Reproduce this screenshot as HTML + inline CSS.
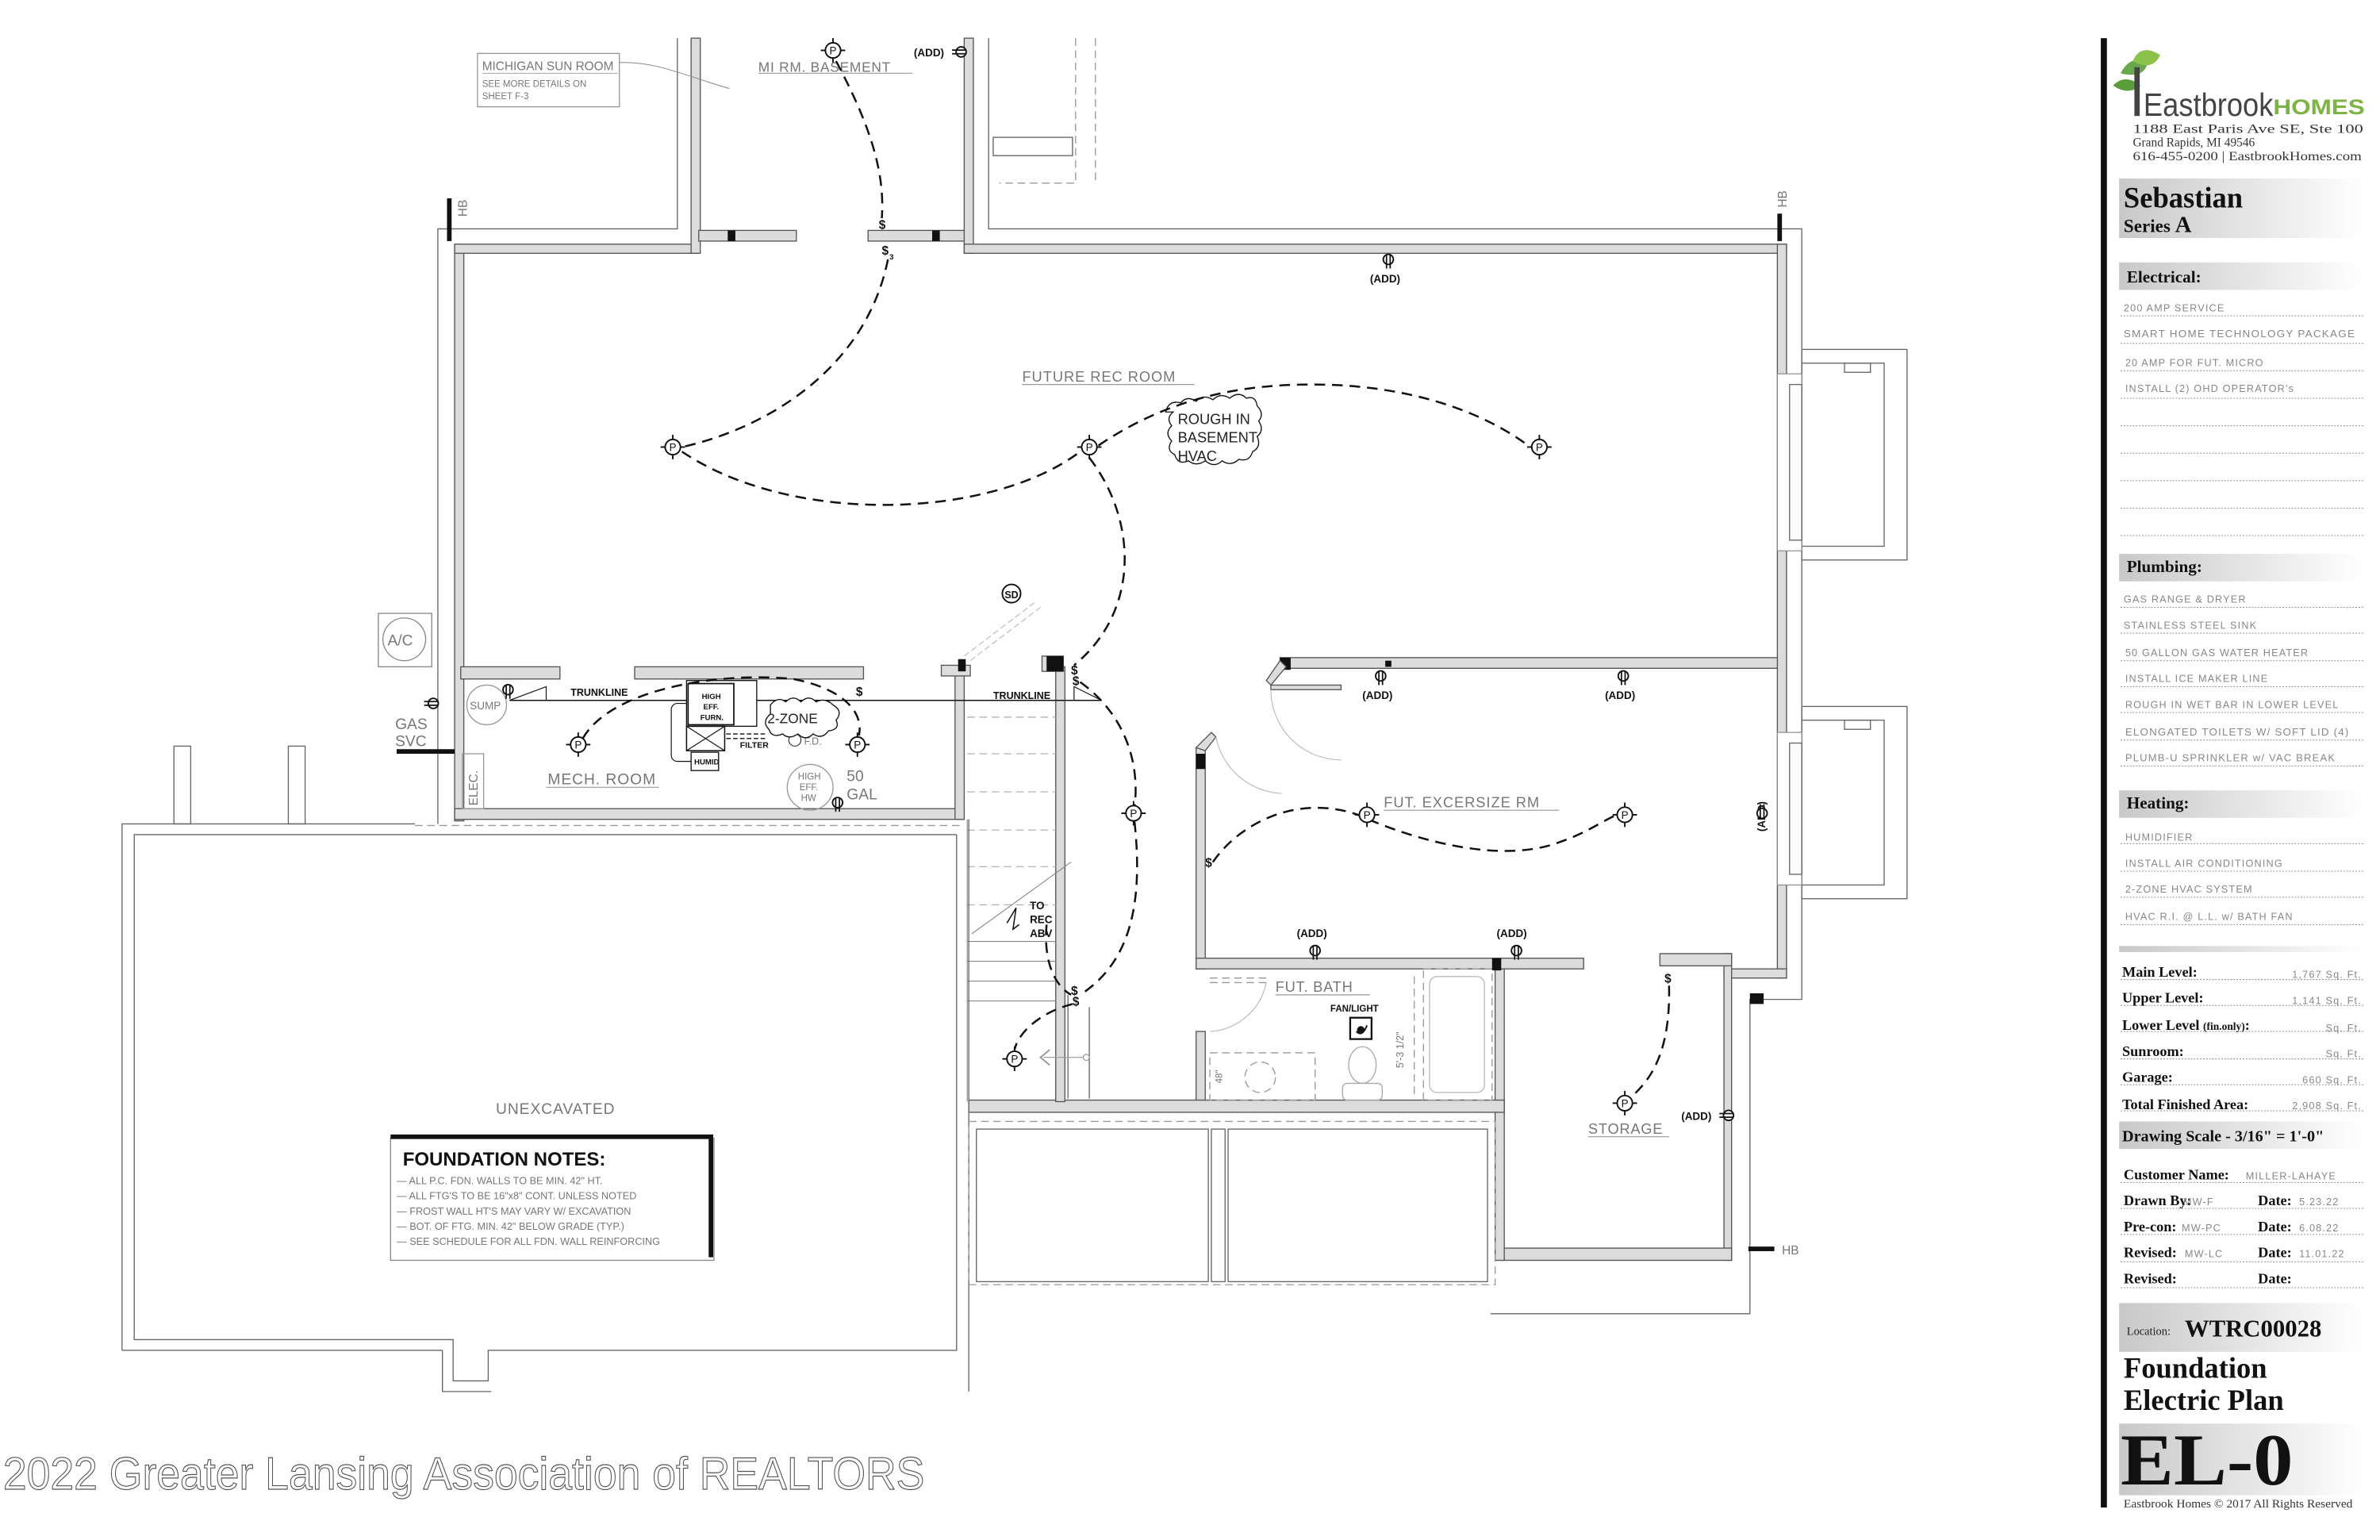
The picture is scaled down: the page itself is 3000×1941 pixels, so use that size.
<!DOCTYPE html>
<html><head><meta charset="utf-8"><style>
html,body{margin:0;padding:0;background:#fff;}
svg{display:block;}
.w{fill:#dcdcdc;stroke:#555;stroke-width:0.7;}
.t{fill:none;stroke:#666;stroke-width:0.7;}
.d{fill:none;stroke:#999;stroke-width:0.7;stroke-dasharray:5 3;}
.wire{fill:none;stroke:#111;stroke-width:1.3;stroke-dasharray:7 4.5;}
.lbl{font-family:"Liberation Sans",sans-serif;fill:#777;}
.blk{font-family:"Liberation Sans",sans-serif;fill:#111;font-weight:bold;}
.ser{font-family:"Liberation Serif",serif;font-weight:bold;fill:#111;}
.itm{font-family:"Liberation Sans",sans-serif;fill:#888;font-size:6.6px;letter-spacing:0.6px;}
.dot{stroke:#999;stroke-width:0.6;stroke-dasharray:1 1;}
</style></head><body>
<svg width="3000" height="1941" viewBox="0 0 1560 1009.3" xmlns="http://www.w3.org/2000/svg">
<defs>
<linearGradient id="g" x1="0" x2="1" y1="0" y2="0"><stop offset="0" stop-color="#c8c8c8"/><stop offset="1" stop-color="#fff"/></linearGradient>
<symbol id="P" viewBox="-8 -8 16 16" overflow="visible">
<circle r="5" fill="#fff" stroke="#111" stroke-width="1"/><line x1="-8" y1="0" x2="-5" y2="0" stroke="#111"/><line x1="5" y1="0" x2="8" y2="0" stroke="#111"/><line x1="0" y1="-8" x2="0" y2="-5" stroke="#111"/><line x1="0" y1="5" x2="0" y2="8" stroke="#111"/>
<text x="0" y="2.6" font-size="7" text-anchor="middle" font-family="Liberation Sans,sans-serif" fill="#111">P</text></symbol>
<symbol id="O" viewBox="-5 -5 10 10" overflow="visible">
<circle r="3.3" fill="#fff" stroke="#111" stroke-width="1"/><line x1="-1.2" y1="-3" x2="-1.2" y2="6" stroke="#111" stroke-width="0.9"/><line x1="1.2" y1="-3" x2="1.2" y2="6" stroke="#111" stroke-width="0.9"/></symbol>
<symbol id="OH" viewBox="-5 -5 10 10" overflow="visible">
<circle r="3.3" fill="#fff" stroke="#111" stroke-width="1"/><line x1="-6" y1="-1.2" x2="3" y2="-1.2" stroke="#111" stroke-width="0.9"/><line x1="-6" y1="1.2" x2="3" y2="1.2" stroke="#111" stroke-width="0.9"/></symbol>
</defs>
<rect width="1560" height="1010" fill="#fff"/>

<polyline class="t" points="444,25 444,150 287,150 287,540"/>
<polyline class="t" points="648,25 648,150 1181,150 1181,655 1147,655 1147,861 977,861"/>
<polyline class="d" points="705,25 705,120 655,120"/>
<rect x="651" y="90" width="52" height="12" class="t"/>
<line x1="718" y1="25" x2="718" y2="120" class="d"/>
<rect x="293" y="130" width="3" height="28" fill="#111"/>
<text class="lbl" font-size="8" transform="translate(306,142) rotate(-90)">HB</text>
<rect x="1165" y="140" width="3" height="18" fill="#111"/>
<text class="lbl" font-size="8" transform="translate(1171,136) rotate(-90)">HB</text>
<rect x="1146" y="817" width="17" height="3" fill="#111"/>
<text class="lbl" font-size="8" x="1168" y="822">HB</text>

<rect class="w" x="298" y="160" width="6" height="378"/>
<rect class="w" x="298" y="160" width="160" height="6"/>
<rect class="w" x="453" y="25" width="6" height="141"/>
<rect class="w" x="458" y="151" width="64" height="7"/>
<rect class="w" x="569" y="151" width="65" height="7"/>
<rect x="477" y="151" width="5" height="7" fill="#111"/>
<rect x="611" y="151" width="5" height="7" fill="#111"/>
<rect class="w" x="632" y="25" width="6" height="141"/>
<rect class="w" x="632" y="160" width="539" height="6"/>
<rect class="w" x="1165" y="160" width="6" height="481"/>
<rect class="w" x="1130" y="635" width="41" height="6"/>
<rect class="w" x="1130" y="625" width="5" height="201"/>
<rect class="w" x="1088" y="625" width="47" height="8"/>
<rect class="w" x="984" y="818" width="151" height="8"/>
<rect class="w" x="980" y="628" width="6" height="198"/>
<rect x="1147" y="651" width="9" height="7" fill="#111"/>
<rect class="t" x="1181" y="229" width="69" height="138"/>
<rect class="t" x="1181" y="238" width="54" height="120"/>
<rect class="t" x="1209" y="238" width="17" height="6"/>
<rect fill="#fff" stroke="#888" stroke-width="0.6" x="1165" y="245" width="16" height="116"/>
<rect class="t" x="1173" y="252" width="8" height="102"/>
<rect class="t" x="1181" y="463" width="69" height="126"/>
<rect class="t" x="1181" y="472" width="54" height="108"/>
<rect class="t" x="1209" y="472" width="17" height="6"/>
<rect fill="#fff" stroke="#888" stroke-width="0.6" x="1165" y="480" width="16" height="100"/>
<rect class="t" x="1173" y="487" width="8" height="86"/>

<rect class="w" x="839" y="431" width="326" height="7"/>
<rect x="839" y="431" width="7" height="8" fill="#111"/>
<rect x="908" y="433" width="4" height="4" fill="#111"/>
<polygon class="w" points="839,433 830,446 833,449 843,437"/>
<rect class="w" x="833" y="449" width="46" height="3"/>
<path d="M833,452 A46,46 0 0 0 879,498" fill="none" stroke="#bbb" stroke-width="0.6"/>
<rect class="w" x="784" y="490" width="6" height="145"/>
<rect x="784" y="494" width="6" height="10" fill="#111"/>
<polygon class="w" points="784,490 794,480 797,483 790,492"/>
<path d="M797,483 A46,46 0 0 0 840,520" fill="none" stroke="#bbb" stroke-width="0.6"/>
<rect class="w" x="784" y="628" width="254" height="7"/>
<rect x="978" y="628" width="6" height="8" fill="#111"/>
<rect class="w" x="784" y="676" width="6" height="46"/>
<rect class="w" x="635" y="721" width="351" height="8"/>
<line x1="793" y1="641" x2="830" y2="641" class="d"/>
<line x1="793" y1="644" x2="830" y2="644" class="d"/>
<path d="M830,644 A40,40 0 0 1 793,676" fill="none" stroke="#bbb" stroke-width="0.6"/>
<rect x="793" y="690" width="69" height="31" class="d"/>
<circle cx="826" cy="706" r="10" class="d"/>
<text class="lbl" font-size="6" transform="translate(801,710) rotate(-90)">48"</text>
<ellipse cx="893" cy="698" rx="9" ry="12" fill="none" stroke="#aaa" stroke-width="0.7"/>
<rect x="880" y="710" width="26" height="11" rx="3" fill="none" stroke="#aaa" stroke-width="0.7"/>
<rect x="933" y="635" width="45" height="86" class="d"/>
<rect x="937" y="640" width="36" height="76" rx="5" fill="none" stroke="#bbb" stroke-width="0.7"/>
<line x1="927" y1="640" x2="927" y2="720" class="d"/>
<text class="lbl" font-size="6.5" transform="translate(920,700) rotate(-90)">5'-3 1/2"</text>
<text class="blk" font-size="6" x="872" y="663">FAN/LIGHT</text>
<rect x="885" y="667" width="14" height="14" fill="#fff" stroke="#111" stroke-width="1.2"/>
<circle cx="892" cy="675" r="2.5" fill="#111"/><path d="M889,676 q4,4 7,-4" fill="none" stroke="#111"/>

<rect class="w" x="302" y="437" width="65" height="8"/>
<rect class="w" x="416" y="437" width="150" height="8"/>
<rect class="w" x="298" y="530" width="334" height="7"/>
<rect class="w" x="626" y="437" width="6" height="100"/>
<rect class="w" x="617" y="436" width="19" height="7"/>
<rect x="628" y="432" width="5" height="8" fill="#111"/>
<rect class="w" x="692" y="437" width="6" height="285"/>
<rect class="w" x="683" y="430" width="14" height="10"/>
<rect x="686" y="430" width="11" height="10" fill="#111"/>
<g stroke="#aaa" stroke-width="0.6" stroke-dasharray="5 3">
<line x1="634" y1="470" x2="692" y2="470"/><line x1="634" y1="494" x2="692" y2="494"/><line x1="634" y1="519" x2="692" y2="519"/><line x1="634" y1="544" x2="692" y2="544"/><line x1="634" y1="568" x2="692" y2="568"/><line x1="634" y1="593" x2="692" y2="593"/></g>
<g stroke="#888" stroke-width="0.6"><line x1="634" y1="617" x2="692" y2="617"/><line x1="634" y1="630" x2="692" y2="630"/><line x1="634" y1="643" x2="692" y2="643"/><line x1="634" y1="656" x2="692" y2="656"/><line x1="637" y1="612" x2="702" y2="565"/>
<line x1="634" y1="537" x2="634" y2="722"/></g>
<line x1="700" y1="652" x2="700" y2="720" class="t"/>
<line x1="714" y1="660" x2="714" y2="720" class="t"/>
<line x1="632" y1="430" x2="678" y2="395" stroke="#bbb" stroke-width="0.6" stroke-dasharray="4 2"/>
<line x1="636" y1="433" x2="682" y2="398" stroke="#bbb" stroke-width="0.6" stroke-dasharray="4 2"/>
<circle cx="663" cy="389" r="6" fill="#fff" stroke="#111"/><text x="663" y="392" font-size="6.5" text-anchor="middle" class="blk" font-weight="normal">SD</text>
<text class="blk" font-size="7" x="675" y="596">TO</text><text class="blk" font-size="7" x="675" y="605">REC</text><text class="blk" font-size="7" x="675" y="614">ABV</text>
<path d="M660,605 l6,-10 l-2,14 l4,-3" fill="none" stroke="#111" stroke-width="0.8"/>
<use href="#P" x="665" y="694" width="16" height="16" transform="translate(-8,-8)"/>
<path d="M688,688 l-6,5 l6,5" fill="none" stroke="#999"/><line x1="684" y1="693" x2="710" y2="693" stroke="#999" stroke-width="0.6"/><circle cx="712" cy="693" r="2" fill="none" stroke="#999" stroke-width="0.6"/>

<polyline class="t" points="627,547 88,547 88,878 297,878 297,905 320,905 320,885 627,885 627,547"/>
<polyline class="t" points="80,885 80,540 272,540"/>
<line x1="80" y1="885" x2="290" y2="885" class="t"/>
<polyline class="t" points="290,885 290,912 322,912"/>
<line x1="635" y1="537" x2="635" y2="912" class="t"/>
<line x1="272" y1="541" x2="632" y2="541" class="d"/>
<rect class="t" x="114" y="489" width="11" height="51"/>
<rect class="t" x="189" y="489" width="11" height="51"/>
<rect class="d" x="635" y="735" width="345" height="107"/>
<rect class="t" x="640" y="740" width="152" height="100" fill="none"/>
<rect class="t" x="805" y="740" width="170" height="100" fill="none"/>
<rect class="t" x="794" y="740" width="9" height="100"/>

<text class="lbl" font-size="10" x="325" y="730" letter-spacing="0.5">UNEXCAVATED</text>
<rect x="256" y="746" width="212" height="80" fill="#fff" stroke="#888" stroke-width="0.7"/>
<polyline points="256,745 466,745 466,824" fill="none" stroke="#111" stroke-width="3"/>
<text class="blk" font-size="12.5" x="264" y="764">FOUNDATION NOTES:</text>
<g class="lbl" font-size="6.6">
<text x="260" y="776">— ALL P.C. FDN. WALLS TO BE MIN. 42" HT.</text>
<text x="260" y="786">— ALL FTG'S TO BE 16"x8" CONT. UNLESS NOTED</text>
<text x="260" y="796">— FROST WALL HT'S MAY VARY W/ EXCAVATION</text>
<text x="260" y="806">— BOT. OF FTG. MIN. 42" BELOW GRADE (TYP.)</text>
<text x="260" y="816">— SEE SCHEDULE FOR ALL FDN. WALL REINFORCING</text></g>

<rect x="248" y="402" width="35" height="35" fill="none" stroke="#888" stroke-width="0.7"/>
<circle cx="265" cy="419" r="14" fill="none" stroke="#888" stroke-width="0.7"/>
<text class="lbl" font-size="10" x="254" y="423">A/C</text>
<text class="lbl" font-size="10" x="259" y="478">GAS</text><text class="lbl" font-size="10" x="259" y="489">SVC</text>
<rect x="260" y="491" width="38" height="3" fill="#111"/>
<use href="#OH" x="284" y="461" width="10" height="10" transform="translate(-5,-5)"/>
<circle cx="319" cy="462" r="13" fill="none" stroke="#999" stroke-width="0.7"/>
<text class="lbl" font-size="7" x="308" y="465">SUMP</text>
<use href="#O" x="333" y="452" width="10" height="10" transform="translate(-5,-5)"/>
<rect x="303" y="494" width="14" height="36" fill="none" stroke="#999" stroke-width="0.7"/>
<text class="lbl" font-size="8" transform="translate(313,528) rotate(-90)">ELEC.</text>
<line x1="334" y1="459" x2="722" y2="459" stroke="#111" stroke-width="0.8"/>
<polyline points="334,459 358,450 358,459" fill="none" stroke="#111" stroke-width="0.6"/>
<polyline points="704,459 704,450 722,459" fill="none" stroke="#111" stroke-width="0.6"/>
<text class="blk" font-size="6.5" font-weight="normal" x="374" y="456">TRUNKLINE</text>
<text class="blk" font-size="6.5" font-weight="normal" x="651" y="458">TRUNKLINE</text>
<rect x="450" y="446" width="46" height="30" fill="#fff" stroke="#111" stroke-width="0.7"/>
<rect x="451" y="448" width="30" height="27" fill="none" stroke="#111" stroke-width="0.9"/>
<text class="blk" font-size="5" font-weight="normal" x="460" y="458">HIGH</text><text class="blk" font-size="5" font-weight="normal" x="461" y="465">EFF.</text><text class="blk" font-size="5" font-weight="normal" x="459" y="472">FURN.</text>
<rect x="450" y="476" width="25" height="16" fill="none" stroke="#111" stroke-width="0.8"/>
<path d="M450,476 L475,492 M475,476 L450,492" stroke="#111" stroke-width="0.6"/>
<rect x="453" y="493" width="18" height="12" fill="#fff" stroke="#111" stroke-width="0.7"/>
<text class="blk" font-size="5" font-weight="normal" x="455" y="501">HUMID</text>
<path d="M450,461 h-6 a4,4 0 0 0 -4,4 v30 a4,4 0 0 0 4,4 h9" fill="none" stroke="#111" stroke-width="0.6"/>
<line x1="476" y1="481" x2="503" y2="481" stroke="#111" stroke-width="0.7" stroke-dasharray="3 1.5"/>
<line x1="476" y1="484" x2="503" y2="484" stroke="#111" stroke-width="0.7" stroke-dasharray="3 1.5"/>
<text class="blk" font-size="5.5" font-weight="normal" x="485" y="490">FILTER</text>
<circle cx="521" cy="485" r="4" fill="none" stroke="#333" stroke-width="0.6"/>
<text class="lbl" font-size="6.5" x="527" y="488">F.D.</text>
<path d="M505,462 q5,-6 10,-2 q5,-5 10,0 q5,-5 10,0 q6,-3 11,2 q7,4 2,10 q3,6 -5,7 q-4,6 -10,2 q-5,5 -10,0 q-6,4 -10,0 q-7,3 -9,-3 q-5,-5 1,-10 z" fill="#fff" stroke="#111" stroke-width="0.7"/>
<text font-family="Liberation Sans,sans-serif" fill="#222" font-size="9" x="503" y="474">2-ZONE</text>
<circle cx="531" cy="516" r="15" fill="none" stroke="#999" stroke-width="0.7"/>
<text class="lbl" font-size="6" x="523" y="511">HIGH</text><text class="lbl" font-size="6" x="524" y="518">EFF.</text><text class="lbl" font-size="6" x="525" y="525">HW</text>
<text class="lbl" font-size="10" x="555" y="512">50</text><text class="lbl" font-size="10" x="555" y="524">GAL</text>
<use href="#O" x="549" y="526" width="10" height="10" transform="translate(-5,-5)"/>
<text class="lbl" font-size="10" x="359" y="514" letter-spacing="0.5">MECH. ROOM</text>
<line x1="358" y1="516" x2="432" y2="516" stroke="#999" stroke-width="0.6"/>

<rect x="313" y="35" width="93" height="35" fill="#fff" stroke="#888" stroke-width="0.6"/>
<text class="lbl" font-size="8" x="316" y="46">MICHIGAN SUN ROOM</text>
<line x1="316" y1="48" x2="405" y2="48" stroke="#999" stroke-width="0.5"/>
<text class="lbl" font-size="6" x="316" y="57">SEE MORE DETAILS ON</text>
<text class="lbl" font-size="6" x="316" y="65">SHEET F-3</text>
<path d="M406,41 C430,40 450,50 478,58" fill="none" stroke="#888" stroke-width="0.5"/>
<text class="lbl" font-size="9" x="497" y="47" letter-spacing="0.4">MI RM. BASEMENT</text>
<line x1="497" y1="48" x2="598" y2="48" stroke="#999" stroke-width="0.6"/>
<text class="blk" font-size="7" x="599" y="37">(ADD)</text>
<use href="#OH" x="630" y="34" width="10" height="10" transform="translate(-5,-5)"/>
<text class="lbl" font-size="9.5" x="670" y="250" letter-spacing="0.5">FUTURE REC ROOM</text>
<line x1="670" y1="252" x2="783" y2="252" stroke="#999" stroke-width="0.6"/>
<path d="M764,270 q2,-8 10,-6 q4,-5 10,-1 q5,-5 11,-1 q5,-5 11,-1 q6,-5 11,0 q6,-2 7,5 q5,5 1,10 q4,6 -1,10 q3,7 -3,10 q-2,7 -9,5 q-5,5 -11,1 q-5,5 -11,0 q-6,4 -11,0 q-7,3 -9,-4 q-6,-3 -2,-9 q-5,-5 0,-10 q-4,-5 1,-9 z" fill="#fff" stroke="#111" stroke-width="0.7"/>
<g font-family="Liberation Sans,sans-serif" fill="#222" font-size="9.5">
<text x="772" y="278">ROUGH IN</text>
<text x="772" y="290">BASEMENT</text>
<text x="772" y="302">HVAC</text></g>
<use href="#O" x="910" y="170" width="10" height="10" transform="translate(-5,-5)"/>
<text class="blk" font-size="7" x="898" y="185">(ADD)</text>
<use href="#O" x="905" y="443" width="10" height="10" transform="translate(-5,-5)"/>
<text class="blk" font-size="7" x="893" y="458">(ADD)</text>
<use href="#O" x="1064" y="443" width="10" height="10" transform="translate(-5,-5)"/>
<text class="blk" font-size="7" x="1052" y="458">(ADD)</text>
<text class="lbl" font-size="9.5" x="907" y="529" letter-spacing="0.5">FUT. EXCERSIZE RM</text>
<line x1="907" y1="531" x2="1022" y2="531" stroke="#999" stroke-width="0.6"/>
<text class="blk" font-size="7" transform="translate(1157,545) rotate(-90)">(ADD)</text>
<use href="#OH" x="1165" y="533" width="10" height="10" transform="translate(-5,-5) rotate(90 1165 533)"/>
<text class="blk" font-size="7" x="850" y="614">(ADD)</text>
<use href="#O" x="862" y="623" width="10" height="10" transform="translate(-5,-5)"/>
<text class="blk" font-size="7" x="981" y="614">(ADD)</text>
<use href="#O" x="994" y="623" width="10" height="10" transform="translate(-5,-5)"/>
<text class="lbl" font-size="9.5" x="836" y="650" letter-spacing="0.4">FUT. BATH</text>
<line x1="836" y1="652" x2="898" y2="652" stroke="#999" stroke-width="0.6"/>
<text class="lbl" font-size="9.5" x="1041" y="743" letter-spacing="0.4">STORAGE</text>
<line x1="1041" y1="745" x2="1094" y2="745" stroke="#999" stroke-width="0.6"/>
<text class="blk" font-size="7" x="1102" y="734">(ADD)</text>
<use href="#OH" x="1133" y="731" width="10" height="10" transform="translate(-5,-5)"/>

<path class="wire" d="M548,40 C572,85 580,115 578,143"/>
<path class="wire" d="M582,170 C568,240 505,280 447,293"/>
<path class="wire" d="M447,296 C520,345 650,340 708,296"/>
<path class="wire" d="M720,292 C770,258 820,252 860,252 C920,252 970,268 1003,293"/>
<path class="wire" d="M714,300 C745,340 748,400 704,436"/>
<path class="wire" d="M708,447 C740,470 748,505 743,533 C750,590 742,630 708,652"/>
<path class="wire" d="M703,658 C680,664 667,678 665,688"/>
<path class="wire" d="M686,606 C684,628 690,645 702,652"/>
<path class="wire" d="M382,484 C400,452 470,440 520,445 C555,452 566,468 563,482"/>
<path class="wire" d="M795,565 C812,540 850,520 890,534 C930,552 985,566 1022,552 C1040,546 1052,537 1060,534"/>
<path class="wire" d="M1094,646 C1095,690 1082,708 1068,720"/>
<g class="blk" font-size="8" font-weight="normal">
<text x="576" y="150">$</text><text x="578" y="167">$</text><text x="583" y="170" font-size="5">3</text>
<text x="561" y="456">$</text>
<text x="702" y="442">$</text><text x="703" y="449">$</text>
<text x="702" y="652">$</text><text x="703" y="659">$</text>
<text x="790" y="568">$</text>
<text x="1091" y="644">$</text></g>
<g>
<use href="#P" x="538" y="25" width="16" height="16"/>
<use href="#P" x="433" y="285" width="16" height="16"/>
<use href="#P" x="706" y="285" width="16" height="16"/>
<use href="#P" x="1001" y="285" width="16" height="16"/>
<use href="#P" x="371" y="480" width="16" height="16"/>
<use href="#P" x="554" y="480" width="16" height="16"/>
<use href="#P" x="735" y="525" width="16" height="16"/>
<use href="#P" x="888" y="526" width="16" height="16"/>
<use href="#P" x="1057" y="526" width="16" height="16"/>
<use href="#P" x="1057" y="715" width="16" height="16"/>
</g>

<text x="2" y="976" font-family="Liberation Sans Narrow,Liberation Sans,sans-serif" font-size="30" textLength="604" lengthAdjust="spacingAndGlyphs" fill="#fff" stroke="#555" stroke-width="0.6">2022 Greater Lansing Association of REALTORS</text>

<rect x="1377" y="25" width="4" height="963" fill="#111"/>
<path d="M1390,48 q6,-12 18,-8 q-2,12 -18,8 z" fill="#6aa84f"/>
<path d="M1398,40 q5,-12 18,-4 q-5,11 -18,4 z" fill="#8bc34a"/>
<path d="M1385,56 q8,-8 18,0 q-8,7 -18,0 z" fill="#5a9e3a"/>
<rect x="1399" y="44" width="3.5" height="32" fill="#444"/>
<text x="1405" y="76" font-family="Liberation Sans,sans-serif" font-size="21" fill="#444" textLength="85" lengthAdjust="spacingAndGlyphs">Eastbrook</text>
<text x="1490" y="75" font-family="Liberation Sans,sans-serif" font-weight="bold" font-size="14" fill="#7cb342" textLength="60" lengthAdjust="spacingAndGlyphs">HOMES</text>
<g font-family="Liberation Serif,serif" font-size="8" fill="#333">
<text x="1398" y="87" textLength="151" lengthAdjust="spacingAndGlyphs">1188 East Paris Ave SE, Ste 100</text>
<text x="1398" y="96">Grand Rapids, MI 49546</text>
<text x="1398" y="105" textLength="150" lengthAdjust="spacingAndGlyphs">616-455-0200 | EastbrookHomes.com</text></g>
<rect x="1389" y="117" width="160" height="39" fill="url(#g)"/>
<text class="ser" font-size="19" x="1392" y="136">Sebastian</text>
<text class="ser" font-size="12" x="1392" y="152">Series <tspan font-size="15">A</tspan></text>
<rect x="1389" y="172" width="160" height="18" fill="url(#g)"/>
<text class="ser" font-size="11" x="1394" y="185">Electrical:</text>
<g class="itm">
<text x="1392" y="204">200 AMP SERVICE</text>
<text x="1392" y="221" textLength="152" lengthAdjust="spacingAndGlyphs">SMART HOME TECHNOLOGY PACKAGE</text>
<text x="1393" y="240">20 AMP FOR FUT. MICRO</text>
<text x="1393" y="257">INSTALL (2) OHD OPERATOR's</text>
<text x="1392" y="395">GAS RANGE &amp; DRYER</text>
<text x="1392" y="412">STAINLESS STEEL SINK</text>
<text x="1393" y="430">50 GALLON GAS WATER HEATER</text>
<text x="1393" y="447">INSTALL ICE MAKER LINE</text>
<text x="1393" y="464">ROUGH IN WET BAR IN LOWER LEVEL</text>
<text x="1393" y="482" textLength="147" lengthAdjust="spacingAndGlyphs">ELONGATED TOILETS W/ SOFT LID (4)</text>
<text x="1393" y="499" textLength="138" lengthAdjust="spacingAndGlyphs">PLUMB-U SPRINKLER w/ VAC BREAK</text>
<text x="1393" y="551">HUMIDIFIER</text>
<text x="1393" y="568">INSTALL AIR CONDITIONING</text>
<text x="1393" y="585">2-ZONE HVAC SYSTEM</text>
<text x="1393" y="603">HVAC R.I. @ L.L. w/ BATH FAN</text></g>
<g class="dot">
<line x1="1390" y1="207" x2="1549" y2="207"/><line x1="1390" y1="225" x2="1549" y2="225"/><line x1="1390" y1="243" x2="1549" y2="243"/><line x1="1390" y1="261" x2="1549" y2="261"/><line x1="1390" y1="279" x2="1549" y2="279"/><line x1="1390" y1="297" x2="1549" y2="297"/><line x1="1390" y1="315" x2="1549" y2="315"/><line x1="1390" y1="333" x2="1549" y2="333"/><line x1="1390" y1="351" x2="1549" y2="351"/>
<line x1="1390" y1="398" x2="1549" y2="398"/><line x1="1390" y1="415" x2="1549" y2="415"/><line x1="1390" y1="433" x2="1549" y2="433"/><line x1="1390" y1="450" x2="1549" y2="450"/><line x1="1390" y1="467" x2="1549" y2="467"/><line x1="1390" y1="485" x2="1549" y2="485"/><line x1="1390" y1="502" x2="1549" y2="502"/>
<line x1="1390" y1="553" x2="1549" y2="553"/><line x1="1390" y1="571" x2="1549" y2="571"/><line x1="1390" y1="588" x2="1549" y2="588"/><line x1="1390" y1="606" x2="1549" y2="606"/>
<line x1="1390" y1="642" x2="1549" y2="642"/><line x1="1390" y1="659" x2="1549" y2="659"/><line x1="1390" y1="676" x2="1549" y2="676"/><line x1="1390" y1="694" x2="1549" y2="694"/><line x1="1390" y1="711" x2="1549" y2="711"/><line x1="1390" y1="728" x2="1549" y2="728"/>
<line x1="1390" y1="775" x2="1549" y2="775"/><line x1="1390" y1="792" x2="1549" y2="792"/><line x1="1390" y1="809" x2="1549" y2="809"/><line x1="1390" y1="827" x2="1549" y2="827"/><line x1="1390" y1="844" x2="1549" y2="844"/></g>
<rect x="1389" y="363" width="160" height="18" fill="url(#g)"/>
<text class="ser" font-size="11" x="1394" y="375">Plumbing:</text>
<rect x="1389" y="518" width="160" height="18" fill="url(#g)"/>
<text class="ser" font-size="11" x="1394" y="530">Heating:</text>
<rect x="1389" y="620" width="160" height="4" fill="url(#g)"/>
<g class="ser" font-size="9.5">
<text x="1391" y="640">Main Level:</text><text x="1391" y="657">Upper Level:</text>
<text x="1391" y="675">Lower Level <tspan font-size="7">(fin.only)</tspan>:</text>
<text x="1391" y="692">Sunroom:</text><text x="1391" y="709">Garage:</text><text x="1391" y="727">Total Finished Area:</text></g>
<g class="itm" text-anchor="end" font-size="8">
<text x="1548" y="641">1,767 Sq. Ft.</text><text x="1548" y="658">1,141 Sq. Ft.</text><text x="1548" y="676">Sq. Ft.</text><text x="1548" y="693">Sq. Ft.</text><text x="1548" y="710">660 Sq. Ft.</text><text x="1548" y="727">2,908 Sq. Ft.</text></g>
<rect x="1389" y="735" width="160" height="18" fill="url(#g)"/>
<text class="ser" font-size="10.5" x="1391" y="748">Drawing Scale - 3/16" = 1'-0"</text>
<g class="ser" font-size="9.5">
<text x="1392" y="773">Customer Name:</text><text x="1392" y="790">Drawn By:</text><text x="1392" y="807">Pre-con:</text><text x="1392" y="824">Revised:</text><text x="1392" y="841">Revised:</text>
<text x="1480" y="790">Date:</text><text x="1480" y="807">Date:</text><text x="1480" y="824">Date:</text><text x="1480" y="841">Date:</text></g>
<g class="itm" font-size="8">
<text x="1472" y="773">MILLER-LAHAYE</text><text x="1431" y="790">MW-F</text><text x="1430" y="807">MW-PC</text><text x="1432" y="824">MW-LC</text>
<text x="1507" y="790">5.23.22</text><text x="1507" y="807">6.08.22</text><text x="1507" y="824">11.01.22</text></g>
<rect x="1389" y="854" width="160" height="32" fill="url(#g)"/>
<text x="1394" y="875" font-family="Liberation Serif,serif" font-size="7.5" fill="#222">Location:</text>
<text class="ser" font-size="16" x="1432" y="876">WTRC00028</text>
<text class="ser" font-size="19" x="1392" y="903">Foundation</text>
<text class="ser" font-size="19" x="1392" y="924">Electric Plan</text>
<rect x="1389" y="933" width="160" height="47" fill="url(#g)"/>
<text class="ser" font-size="48" x="1390" y="973" textLength="113" lengthAdjust="spacingAndGlyphs">EL-0</text>
<text x="1392" y="988" font-family="Liberation Serif,serif" font-size="7.5" fill="#333" textLength="150" lengthAdjust="spacingAndGlyphs">Eastbrook Homes © 2017  All Rights Reserved</text>
</svg>
</body></html>
